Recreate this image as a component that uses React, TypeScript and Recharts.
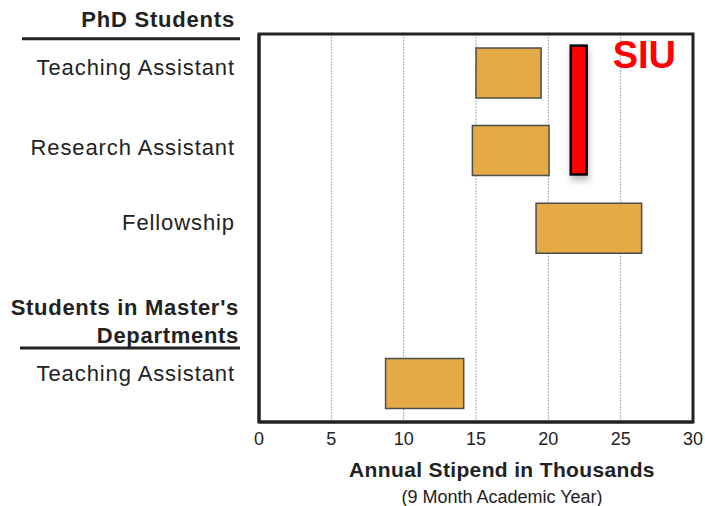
import React from 'react';
import { BarChart, Bar, XAxis, YAxis, CartesianGrid, ReferenceArea, Label } from 'recharts';

// rows top to bottom; row 3 is only the heading for the master's block
const rowIds = ['phd-ta', 'phd-ra', 'phd-fellow', 'ms-heading', 'ms-ta'];
const rowLabels = ['Teaching Assistant', 'Research Assistant', 'Fellowship', '', 'Teaching Assistant'];
// stipend range per row, thousands of dollars
const stipendLow = [15, 14.75, 19.15, null, 8.75];
const stipendHigh = [19.5, 20.05, 26.45, null, 14.15];

const groupHeadings: { row: number; lines: string[] }[] = [
  { row: 0, lines: ['PhD Students'] },
  { row: 3, lines: ["Students in Master's", 'Departments'] },
];

const xTicks = [0, 5, 10, 15, 20, 25, 30];

// the SIU marker: stipend range, spans the first two rows
const siuLabel = 'SIU';
const siuLow = 21.55;
const siuHigh = 22.65;
const siuRows = ['phd-ta', 'phd-ra'];

const data = rowIds.map((id, i) => ({
  id,
  range: stipendLow[i] == null ? null : [stipendLow[i], stipendHigh[i]],
}));

const FONT = '"Liberation Sans", Arial, Helvetica, sans-serif';
const TEXT = '#222';
const BAR_FILL = '#E5AA45';
// row labels sit a bit above the bar centres in the original
const LABEL_NUDGE = [-6, -3, -6, 0, -10];

const RowTick: React.FC<any> = ({ x, y, index }) => {
  const heading = groupHeadings.find((g) => g.row === index);
  const label = rowLabels[index];
  return (
    <g>
      {label && (
        <text x={x} y={y + LABEL_NUDGE[index]} dy="0.35em" textAnchor="end" fontFamily={FONT} fontSize={22} letterSpacing={0.9} fill={TEXT}>
          {label}
        </text>
      )}
      {heading && heading.row === 0 && (
        <g>
          <text x={x} y={y - 54} dy="0.35em" textAnchor="end" fontFamily={FONT} fontSize={22} letterSpacing={0.8} fontWeight="bold" fill={TEXT}>
            {heading.lines[0]}
          </text>
          <line x1={22} x2={x + 5} y1={y - 34} y2={y - 34} stroke={TEXT} strokeWidth={3} />
        </g>
      )}
      {heading && heading.row !== 0 && (
        <g>
          {heading.lines.map((line, i) => (
            <text key={i} x={x + 4} y={y + 2 + i * 27.5} dy="0.35em" textAnchor="end" fontFamily={FONT} fontSize={22} letterSpacing={0.7} fontWeight="bold" fill={TEXT}>
              {line}
            </text>
          ))}
          <line x1={20} x2={x + 5} y1={y + 42.5} y2={y + 42.5} stroke={TEXT} strokeWidth={3} />
        </g>
      )}
    </g>
  );
};

const XTitle: React.FC<any> = ({ viewBox }) => {
  const cx = viewBox.x + viewBox.width / 2 + 26;
  return (
    <g>
      <text x={cx} y={viewBox.y + 48} dy="0.35em" textAnchor="middle" fontFamily={FONT} fontSize={21} letterSpacing={0.35} fontWeight="bold" fill={TEXT}>
        Annual Stipend in Thousands
      </text>
      <text x={cx} y={viewBox.y + 75} dy="0.35em" textAnchor="middle" fontFamily={FONT} fontSize={18} fill={TEXT}>
        (9 Month Academic Year)
      </text>
    </g>
  );
};

const SiuText: React.FC<any> = ({ viewBox }) => (
  <text x={viewBox.x + viewBox.width + 26} y={viewBox.y + 34} fontFamily={FONT} fontSize={38} fontWeight="bold" fill="#FF0000">
    {siuLabel}
  </text>
);

// marker sits inside its two rows, a little short of the row edges
const SiuBar: React.FC<any> = ({ x, y, width, height }) => {
  const band = height / 2;
  const top = y + band * 0.15;
  const bottom = y + height - band * 0.19;
  return (
    <rect x={x} y={top} width={width} height={bottom - top} fill="#FF0000" stroke="#000" strokeWidth={2.5} filter="url(#siuShadow)" />
  );
};

export default function App() {
  return (
    <div style={{ position: 'absolute', left: 0, top: 0, background: '#fff' }}>
      <BarChart width={705} height={506} data={data} layout="vertical" margin={{ top: 34, right: 12, bottom: 0, left: 0 }}>
        <defs>
          <filter id="siuShadow" x="-50%" y="-20%" width="200%" height="140%">
            <feDropShadow dx={1} dy={5} stdDeviation={3} floodColor="#000" floodOpacity={0.25} />
          </filter>
        </defs>
        <CartesianGrid horizontal={false} stroke="#aaa" strokeDasharray="2 1" />
        <XAxis
          type="number"
          domain={[0, 30]}
          ticks={xTicks}
          tickSize={0}
          tickMargin={10}
          height={84}
          axisLine={{ stroke: TEXT, strokeWidth: 3 }}
          tick={{ fontSize: 18, fill: TEXT, fontFamily: FONT }}
          label={<Label content={<XTitle />} />}
        />
        <YAxis
          type="category"
          dataKey="id"
          width={259}
          tickSize={0}
          tickMargin={24}
          axisLine={{ stroke: TEXT, strokeWidth: 3 }}
          tick={<RowTick />}
          interval={0}
        />
        <ReferenceArea
          x1={0}
          x2={30}
          y1={rowIds[0]}
          y2={rowIds[rowIds.length - 1]}
          fill="none"
          fillOpacity={0}
          stroke={TEXT}
          strokeWidth={3}
          ifOverflow="visible"
        />
        <ReferenceArea
          x1={siuLow}
          x2={siuHigh}
          y1={siuRows[0]}
          y2={siuRows[1]}
          shape={(p: any) => <SiuBar {...p} />}
          ifOverflow="visible"
          label={<Label content={<SiuText />} />}
        />
        <Bar dataKey="range" barSize={50} fill={BAR_FILL} stroke="#4d4d4d" strokeWidth={1.5} isAnimationActive={false} />
      </BarChart>
    </div>
  );
}
